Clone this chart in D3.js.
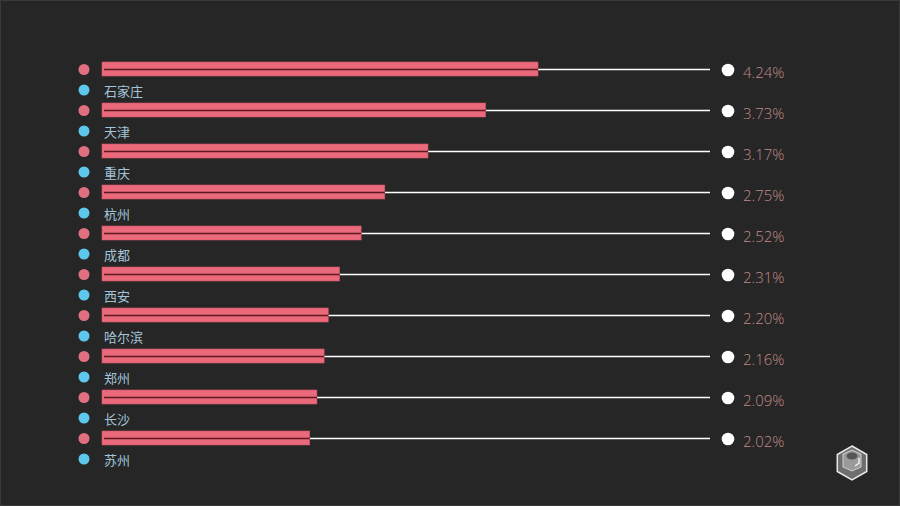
<!DOCTYPE html>
<html><head><meta charset="utf-8">
<script src="https://cdn.jsdelivr.net/npm/d3@7"></script>
<style>
html,body{margin:0;padding:0;background:#262626;}
svg{display:block;}
</style></head>
<body>
<script>
const cities = ["石家庄","天津","重庆","杭州","成都","西安","哈尔滨","郑州","长沙","苏州"];
const values = [4.24,3.73,3.17,2.75,2.52,2.31,2.20,2.16,2.09,2.02];
const valueLabels = ["4.24%","3.73%","3.17%","2.75%","2.52%","2.31%","2.20%","2.16%","2.09%","2.02%"];

const W = 900, H = 506;
const svg = d3.select("body").append("svg").attr("width", W).attr("height", H);
svg.append("rect").attr("width", W).attr("height", H).attr("fill", "#262626");
svg.append("rect").attr("x",0.5).attr("y",0.5).attr("width",W-1).attr("height",H-1)
  .attr("fill","none").attr("stroke","#3a3a3a").attr("stroke-width",1);

const x = d3.scaleLinear().domain([0, 6]).range([102, 719]);
const y = d3.scaleBand().domain(cities).range([48.5, 458.5]).padding(0);
const cy = d => y(d) + y.bandwidth()/2;
const lineEnd = 710;
const data = cities.map((c,i)=>({city:c, value:values[i], label:valueLabels[i]}));

const g = svg.append("g");
const row = g.selectAll("g.row").data(data).join("g").attr("class","row");

// connector line
row.append("line")
  .attr("x1", d => x(d.value)).attr("x2", lineEnd)
  .attr("y1", d => cy(d.city)+0.5).attr("y2", d => cy(d.city)+0.5)
  .attr("stroke", "#ffffff").attr("stroke-width", 1.3);

// bar
row.append("rect")
  .attr("x", x(0)).attr("y", d => cy(d.city) - 7)
  .attr("width", d => x(d.value) - x(0)).attr("height", 14)
  .attr("fill", "#ea6a7b").attr("stroke","#d05566").attr("stroke-width",0.6);
row.append("line")
  .attr("x1", x(0)+2).attr("x2", d => x(d.value))
  .attr("y1", d => cy(d.city)+0.5).attr("y2", d => cy(d.city)+0.5)
  .attr("stroke", "#5e1822").attr("stroke-width", 1.4);

// red dot
row.append("circle").attr("cx", 84).attr("cy", d => cy(d.city)+0.5).attr("r", 5.5).attr("fill", "#e0707f");
// blue dot
row.append("circle").attr("cx", 84).attr("cy", d => cy(d.city)+21).attr("r", 5.5).attr("fill", "#5ec8ec");
// city label
row.append("text").attr("x", 104).attr("y", d => cy(d.city)+21)
  .attr("dominant-baseline","central")
  .attr("font-family","'Noto Sans CJK SC', sans-serif").attr("font-size", 13)
  .attr("fill", "#a4c4d8").text(d => d.city);

// white end dot
row.append("circle").attr("cx", 728).attr("cy", d => cy(d.city)+1).attr("r", 6.3).attr("fill", "#ffffff");
// value label
row.append("text").attr("x", 743).attr("y", d => cy(d.city)+3)
  .attr("dominant-baseline","central")
  .attr("font-family","'Open Sans', sans-serif").attr("font-weight", 300).attr("font-size", 15)
  .attr("fill", "#c08a88").text(d => d.label);

// decorative cube icon
const icon = svg.append("g").attr("transform","translate(852,463)");
const hex = d3.range(6).map(i => { const a = Math.PI/180*(60*i - 90); return [17*Math.cos(a), 17*Math.sin(a)]; });
icon.append("path").attr("d", d3.line()(hex)+"Z").attr("fill","#6e6e6e").attr("stroke","#e8e8e8").attr("stroke-width",1.5);
icon.append("path").attr("d","M-9,-9 L0,-13 L9,-9 L9,4 L0,8 L-9,4 Z").attr("fill","#9a9a9a").attr("stroke","#cfcfcf").attr("stroke-width",1);
icon.append("ellipse").attr("cx",0).attr("cy",-7).attr("rx",5.5).attr("ry",3.5).attr("fill","#555");
icon.append("path").attr("d","M3,3 L7,0 L7,-5").attr("fill","none").attr("stroke","#eee").attr("stroke-width",1.5);
</script>
</body></html>
